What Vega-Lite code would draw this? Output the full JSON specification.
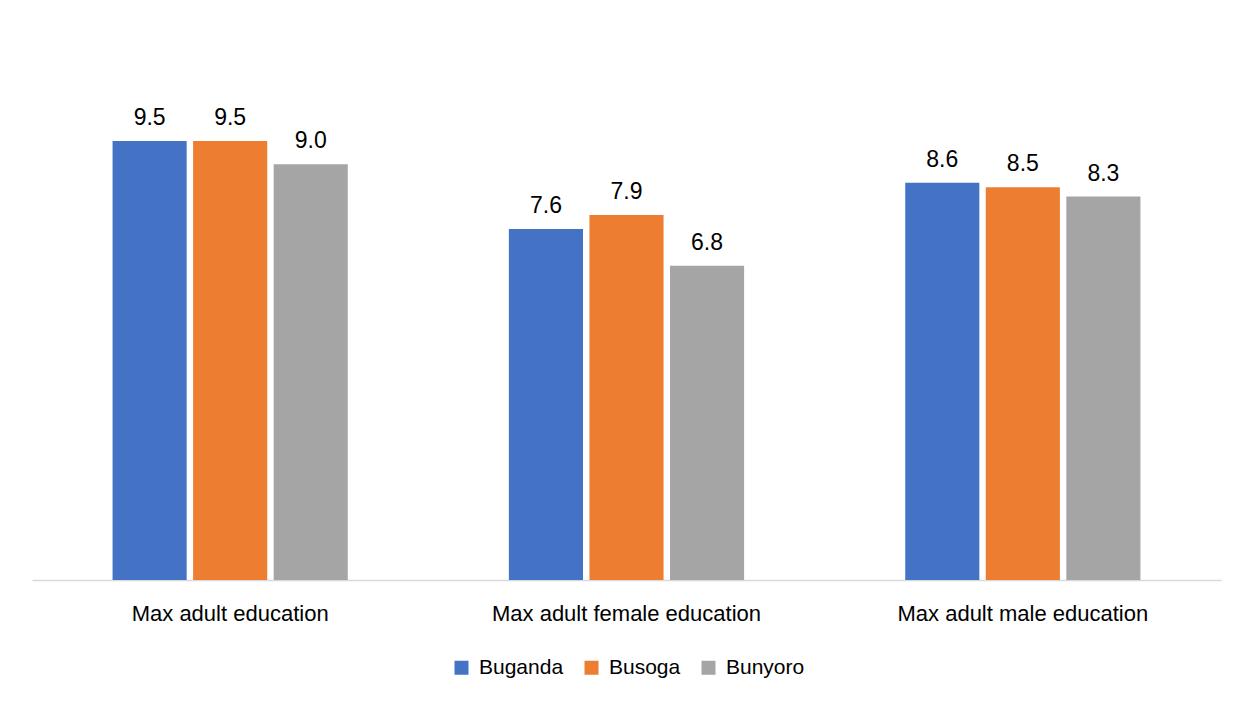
{
  "$schema": "https://vega.github.io/schema/vega-lite/v6.json",
  "width": 1189,
  "height": 462,
  "autosize": {"type": "none"},
  "padding": {"left": 32, "top": 118, "right": 29, "bottom": 124},
  "background": "white",
  "config": {
    "view": {"stroke": null},
    "font": "Liberation Sans, Arial"
  },
  "data": {
    "values": [
      {"measure": "Max adult education", "region": "Buganda", "value": 9.5},
      {"measure": "Max adult education", "region": "Busoga", "value": 9.5},
      {"measure": "Max adult education", "region": "Bunyoro", "value": 9.0},
      {"measure": "Max adult female education", "region": "Buganda", "value": 7.6},
      {"measure": "Max adult female education", "region": "Busoga", "value": 7.9},
      {"measure": "Max adult female education", "region": "Bunyoro", "value": 6.8},
      {"measure": "Max adult male education", "region": "Buganda", "value": 8.6},
      {"measure": "Max adult male education", "region": "Busoga", "value": 8.5},
      {"measure": "Max adult male education", "region": "Bunyoro", "value": 8.3}
    ]
  },
  "encoding": {
    "x": {
      "field": "measure", "type": "nominal", "sort": null,
      "scale": {"paddingInner": 0, "paddingOuter": 0},
      "axis": {
        "title": null, "labelAngle": 0, "ticks": false, "labelLimit": 0,
        "domainColor": "#d9d9d9", "domainWidth": 1.5,
        "labelFontSize": 22, "labelColor": "#000000", "labelPadding": 23
      }
    },
    "xOffset": {
      "field": "region", "type": "nominal", "sort": ["Buganda", "Busoga", "Bunyoro"],
      "scale": {"paddingInner": 0.08, "paddingOuter": 1.0}
    },
    "y": {
      "field": "value", "type": "quantitative",
      "scale": {"domain": [0, 10], "nice": false},
      "axis": null
    }
  },
  "layer": [
    {
      "mark": {"type": "bar"},
      "encoding": {
        "color": {
          "field": "region", "type": "nominal", "sort": ["Buganda", "Busoga", "Bunyoro"],
          "scale": {"domain": ["Buganda", "Busoga", "Bunyoro"], "range": ["#4472C4", "#ED7D31", "#A5A5A5"]},
          "legend": {
            "title": null, "orient": "none", "direction": "horizontal",
            "legendX": 419, "legendY": 539,
            "symbolType": "square", "symbolSize": 196, "symbolStrokeWidth": 0,
            "labelFontSize": 21, "labelColor": "#000000", "labelOffset": 7,
            "columnPadding": 17
          }
        }
      }
    },
    {
      "mark": {"type": "text", "baseline": "alphabetic", "dy": -16, "fontSize": 23, "color": "#000000"},
      "encoding": {
        "text": {"field": "value", "type": "quantitative", "format": ".1f"}
      }
    }
  ]
}
